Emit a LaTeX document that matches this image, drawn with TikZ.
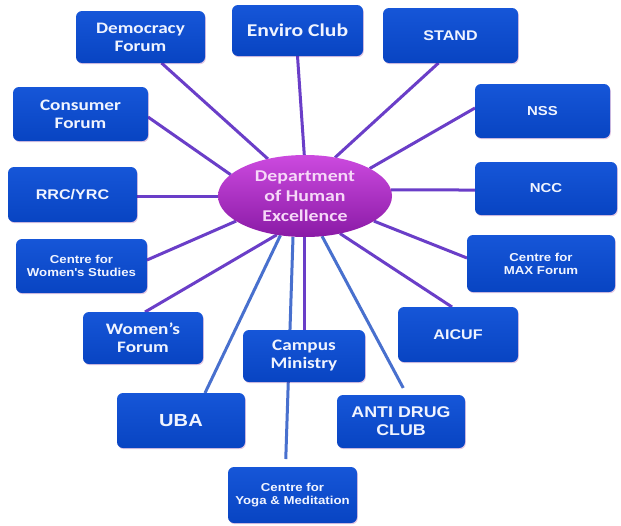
\documentclass[tikz,border=0pt]{standalone}
\usepackage{fontspec}
\usetikzlibrary{shapes.geometric,shadows}
\newfontfamily\calw[FakeStretch=1.2]{Carlito}
\newfontfamily\arw[FakeStretch=1.15]{Liberation Sans}
\definecolor{boxtop}{HTML}{1656D8}
\definecolor{boxbot}{HTML}{0844C2}
\definecolor{lnpur}{HTML}{6A3EC8}
\definecolor{lnblue}{HTML}{4870CE}
\definecolor{elltop}{HTML}{CC4ADF}
\definecolor{ellbot}{HTML}{8A1AA6}
\definecolor{elltext}{HTML}{F6D8F8}
\definecolor{boxtext}{HTML}{F0F4FF}
\pgfdeclarelayer{background}
\pgfsetlayers{background,main}
\tikzset{
  org/.style={draw=none, rounded corners=6pt, top color=boxtop, bottom color=boxbot,
    text=boxtext, align=center, inner sep=0pt, outer sep=0pt,
    drop shadow={opacity=0.22, shadow xshift=0.8pt, shadow yshift=-1.2pt, fill=violet}},
  cal/.style={font=\calw\bfseries\fontsize{16}{18}\selectfont},
  ari/.style={font=\arw\bfseries\fontsize{14}{17}\selectfont},
  arismall/.style={font=\arw\bfseries\fontsize{11.5}{13}\selectfont},
  link/.style={line width=3pt, lnpur},
  linkb/.style={line width=3pt, lnblue},
}
\begin{document}
\begin{tikzpicture}[x=1pt,y=-1pt]
\useasboundingbox (0,0) rectangle (621,525);

\node[ellipse, minimum width=174pt, minimum height=82pt, inner sep=0pt, outer sep=0pt,
  top color=elltop, bottom color=ellbot, text=elltext, align=center,
  font=\calw\bfseries\fontsize{16.5}{20}\selectfont] (ell) at (305,196)
  {Department\\of Human\\Excellence};

\node[org, cal, minimum width=129pt, minimum height=52pt] (demo) at (140.5,37) {Democracy\\Forum};
\node[org, cal, font=\calw\bfseries\fontsize{18}{20}\selectfont, minimum width=131pt, minimum height=51pt] (enviro) at (297.5,30.5) {Enviro Club};
\node[org, ari, minimum width=135pt, minimum height=55pt] (stand) at (450.5,35.5) {STAND};
\node[org, ari, font=\arw\bfseries\fontsize{13}{16}\selectfont, minimum width=135pt, minimum height=54pt] (nss) at (542.5,111) {NSS};
\node[org, ari, font=\arw\bfseries\fontsize{13}{16}\selectfont, minimum width=142pt, minimum height=53pt] (ncc) at (546,188.5) {NCC};
\node[org, arismall, minimum width=148pt, minimum height=57pt] (max) at (541,263.5) {Centre for\\MAX Forum};
\node[org, ari, minimum width=120pt, minimum height=55pt] (aicuf) at (458,334.5) {AICUF};
\node[org, ari, font=\arw\bfseries\fontsize{15.5}{18}\selectfont, minimum width=128pt, minimum height=53pt] (anti) at (401,421.5) {ANTI DRUG\\CLUB};
\node[org, cal, minimum width=122pt, minimum height=52pt] (campus) at (304,356) {Campus\\Ministry};
\node[org, arismall, minimum width=129pt, minimum height=56pt] (yoga) at (292.5,495) {Centre for\\Yoga \& Meditation};
\node[org, ari, font=\arw\bfseries\fontsize{17.5}{20}\selectfont, minimum width=128pt, minimum height=55pt] (uba) at (181,420.5) {UBA};
\node[org, cal, minimum width=120pt, minimum height=52pt] (wforum) at (143,338) {Women’s\\Forum};
\node[org, arismall, minimum width=131pt, minimum height=54pt] (wstud) at (81.5,266) {Centre for\\Women\textquotesingle s Studies};
\node[org, ari, minimum width=129pt, minimum height=55pt] (rrc) at (72.5,194.5) {RRC/YRC};
\node[org, cal, minimum width=135pt, minimum height=54pt] (consumer) at (80.5,114) {Consumer\\Forum};

\begin{pgfonlayer}{background}
\fill[white] (0,0) rectangle (621,525);
\draw[link] (ell.135.7) -- ([xshift=21pt]demo.south);
\draw[link] (ell.91) -- (enviro.south);
\draw[link] (ell.52) -- ([xshift=-12pt]stand.south);
\draw[link] (ell.23) -- ([yshift=3pt]nss.west);
\draw[link] (ell.4) -- ([yshift=-1.5pt]ncc.west);
\draw[link] (ell.-20) -- ([yshift=5.5pt]max.west);
\draw[link] (ell.-47) -- ([xshift=-6pt]aicuf.north);
\draw[linkb, shorten >=8pt] (ell.-67.5) -- ([xshift=6pt]anti.north);
\draw[link] (campus.north |- ell.south) -- (campus.north);
\draw[linkb, shorten >=8pt] ([xshift=-12pt]ell.south) -- ([xshift=-7pt]yoga.north);
\draw[linkb] (ell.238.6) -- ([xshift=24pt]uba.north);
\draw[link] (ell.234.5) -- ([xshift=2pt]wforum.north);
\draw[link] (ell.200.6) -- ([yshift=6pt]wstud.east);
\draw[link] (ell.180) -- ([yshift=-1.5pt]rrc.east);
\draw[link] (ell.164.7) -- ([yshift=-3pt]consumer.east);
\end{pgfonlayer}
\end{tikzpicture}
\end{document}
